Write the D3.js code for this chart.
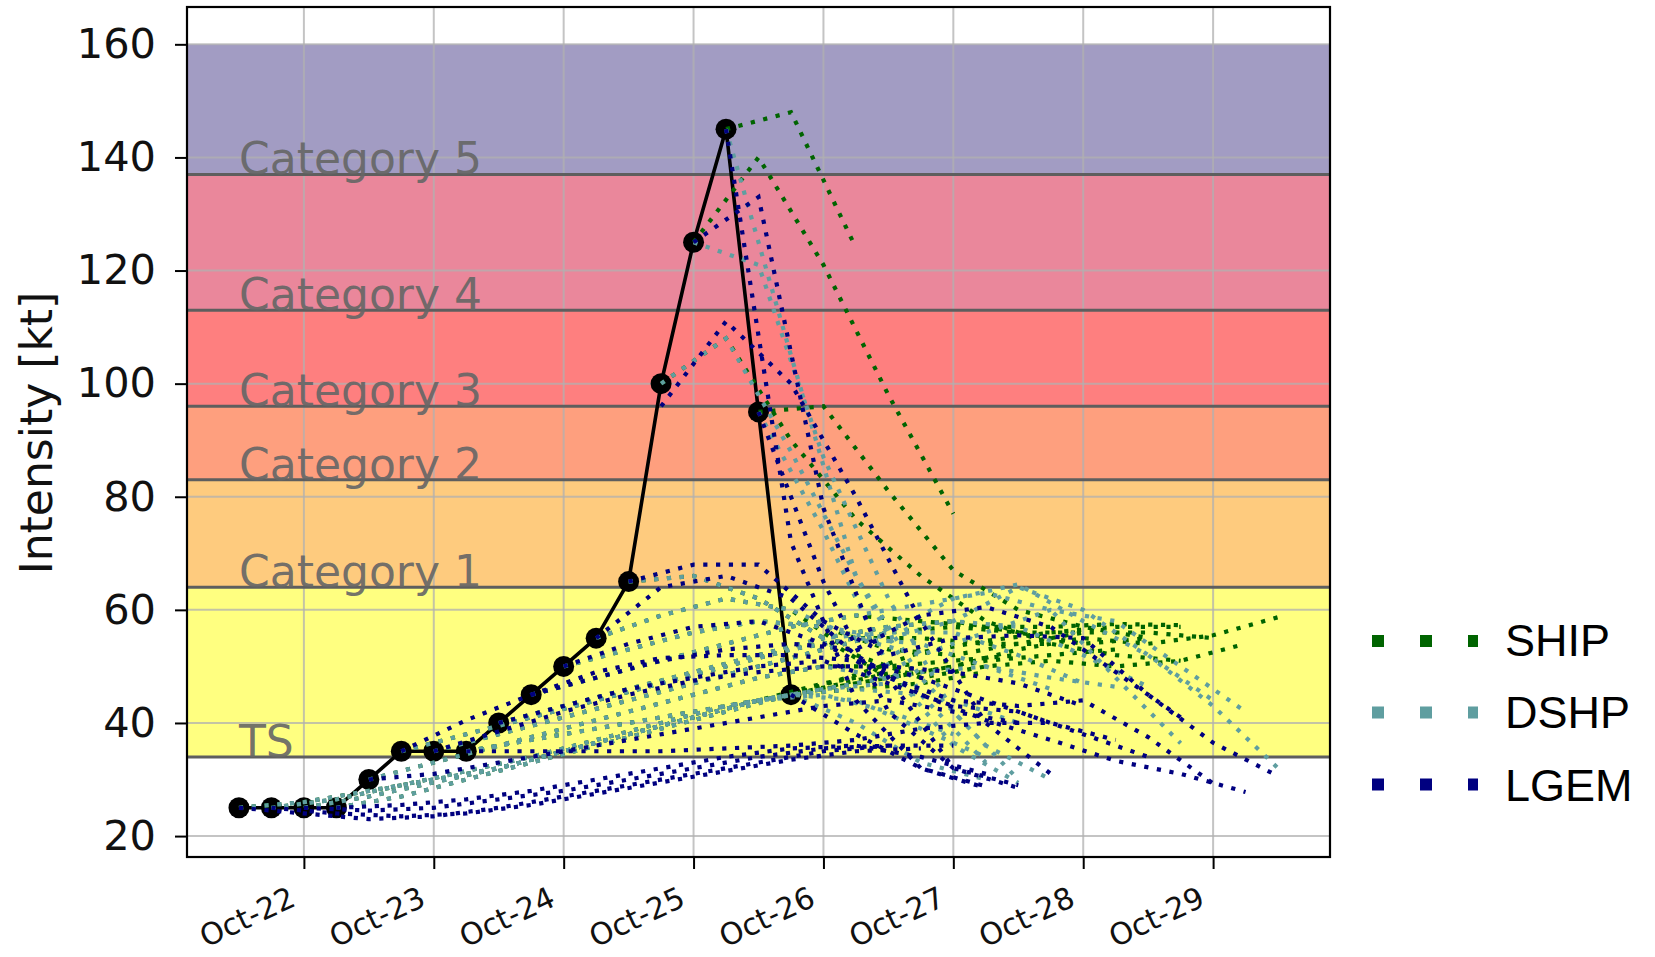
<!DOCTYPE html>
<html><head><meta charset="utf-8">
<script src="https://cdn.jsdelivr.net/npm/d3@7"></script>
<style>html,body{margin:0;padding:0;background:#fff}svg{display:block}</style>
</head><body>
<svg id="chart" width="1655" height="957"></svg>
<script>
// ---------------- data ----------------
const trackTimes = ["2023-10-21T12:00Z","2023-10-21T18:00Z","2023-10-22T00:00Z","2023-10-22T06:00Z",
  "2023-10-22T12:00Z","2023-10-22T18:00Z","2023-10-23T00:00Z","2023-10-23T06:00Z","2023-10-23T12:00Z",
  "2023-10-23T18:00Z","2023-10-24T00:00Z","2023-10-24T06:00Z","2023-10-24T12:00Z","2023-10-24T18:00Z",
  "2023-10-25T00:00Z","2023-10-25T06:00Z","2023-10-25T12:00Z","2023-10-25T18:00Z"];
const trackIntensity = [25,25,25,25,30,35,35,35,40,45,50,55,65,100,125,145,95,45];
const forecastStepHours = 12;
// one row per initial time (same order as trackTimes), values every 12 h
const shipForecasts = [
  [25,26,28,30,32,35,38,41,44,47,49],
  [25,26.5,29,31.5,34,37,40,43,45,47.5,50],
  [25,27,29.5,32,35,38,41,44,46,48,50],
  [25,27,30,33,36,39,42,45,46,47,49],
  [30,33,36,39,42,45,48,50,50,51,52],
  [35,38,41,44,47,50,53,55,55,54,54],
  [35,38,41,44,47,50,53,56,57,56,56],
  [35,37,39,41,43,45,47,49,51,52,53],
  [40,43,46,49,52,55,57,58,56,54,55],
  [45,48,51,54,57,59,58,57,57,57.5,57.3],
  [50,53,56,58,57,53,52,54,56,56,55],
  [55,59,62,60,52,48,50,51,50,51,54],
  [65,66,62,55,48,50,53,55,54,55.5,58.7],
  [100,108,90,76,66,58,54,52,51],
  [125,140,121,98,77],
  [145,148,124],
  [95,96,81,67,60,57,55],
  [45,48.5,52.5,54.5,56,57,57]
];
const dshpForecasts = [
  [25,26,28,30,32,35,38,41,44,46,47],
  [25,26.5,29,31.5,34,37,40,43,45,46,45],
  [25,27,29.5,32,35,38,41,44,45,42,38],
  [25,27,30,33,36,39,42,45,44,39,34],
  [30,33,36,39,42,45,48,50,48,44,40],
  [35,38,41,44,47,50,53,55,54,50,46],
  [35,38,41,44,47,50,53,56,56,52,47],
  [35,37,39,41,43,45,47,49,50,48,46.4],
  [40,43,46,49,52,55,57,58,57,52,46.4],
  [45,48,51,54,57,59,61,63,60,48,36.4],
  [50,53,56,58,57,55,58,64,60,52,44],
  [55,59,62,60,55,52,56,60,58,50,42],
  [65,66,62,55,56,62,64.5,58,52,43,32],
  [100,108,88,66,48,36,30],
  [125,121,87,62,42,30],
  [145,105,66,45,33],
  [95,74,50,36,29.4],
  [45,40,33,30]
];
const lgemForecasts = [
  [25,24,23,23.5,25,27,29,31,33,35,36],
  [25,24,23.5,24,25.5,27.5,29.5,31.5,33.5,35,35.5],
  [25,24.5,25,26.5,28,30,32,34,35.5,36,36],
  [25,25.5,26.5,28,30,32,34,35.5,36,34,31],
  [30,31,33,35,37,39,41,43,44,42,40],
  [35,40.5,45,49,51.5,52,52,51,48,44,40],
  [35,38.5,42,45,47.5,49,50,50,49,47,43],
  [35,35,35,35,35.5,36,37,39,40,40,37],
  [40,43,46,48,50,51,47,43,42,38,34],
  [45,48,51,53,54,53,59,60.5,57,49,41],
  [50,54,57,58,54,48,44,43,44,37.5,29.3],
  [55,64,66,62,52,45,40.5,37,33.3,31,27.8],
  [65,68,68,58,52,55,55.5,55,45,36.5,30.6],
  [96,111,100,80,58,40,31],
  [125,133,78,48,32,29],
  [145,72,44,32,28.8],
  [95,65,42,32,28.5],
  [45,38,32,28.5]
];
const modelNames = ["SHIP","DSHP","LGEM"];
const modelColors = ["#006400","#5f9ea0","#000080"];
const bandBounds = [34,64,83,96,113,137,160];
const bandNames = ["TS","Category 1","Category 2","Category 3","Category 4","Category 5"];
const bandColors = ["#ffff80","#fecb7e","#fe9f7e","#fe7f7f","#ea879b","#a29cc3"];
const yTickValues = [20,40,60,80,100,120,140,160];
const xDomain = ["2023-10-21T02:24Z","2023-10-29T21:36Z"];
const yDomain = [16.3,166.6];

// ---------------- drawing ----------------
const svg = d3.select("#chart");
const L = 187, R = 1330, T = 7, B = 857;
const parse = s => new Date(s);
const x = d3.scaleUtc().domain(xDomain.map(parse)).range([L, R]);
const y = d3.scaleLinear().domain(yDomain).range([B, T]);
const FONT = "'DejaVu Sans', sans-serif";

const plot = svg.append("g");
plot.append("defs").append("clipPath").attr("id","clip")
  .append("rect").attr("x",L).attr("y",T).attr("width",R-L).attr("height",B-T);
const inner = plot.append("g").attr("clip-path","url(#clip)");

// category bands
bandNames.forEach((n,i)=>{
  inner.append("rect").attr("x",L).attr("width",R-L)
    .attr("y",y(bandBounds[i+1])).attr("height",y(bandBounds[i])-y(bandBounds[i+1]))
    .attr("fill",bandColors[i]);
});
// grid
const xTicks = x.ticks(d3.utcDay.every(1));
inner.append("g").selectAll("line").data(xTicks).join("line")
  .attr("x1",d=>x(d)).attr("x2",d=>x(d)).attr("y1",T).attr("y2",B)
  .attr("stroke","#b0b0b0").attr("stroke-opacity",0.75).attr("stroke-width",2);
inner.append("g").selectAll("line").data(yTickValues).join("line")
  .attr("y1",d=>y(d)).attr("y2",d=>y(d)).attr("x1",L).attr("x2",R)
  .attr("stroke","#b0b0b0").attr("stroke-opacity",0.75).attr("stroke-width",2);
// band boundary lines
inner.append("g").selectAll("line").data(bandBounds.slice(0,-1)).join("line")
  .attr("y1",d=>y(d)).attr("y2",d=>y(d)).attr("x1",L).attr("x2",R)
  .attr("stroke","#5e5e5e").attr("stroke-width",3);
// band labels
const labelTime = parse(trackTimes[0]);
inner.append("g").selectAll("text").data(bandNames).join("text")
  .attr("x",x(labelTime)).attr("y",(d,i)=>y(bandBounds[i]))
  .attr("font-family",FONT).attr("font-size",44).attr("fill","#666666").attr("fill-opacity",0.92)
  .text(d=>d);

// best track
const track = trackTimes.map((t,i)=>({t:parse(t), v:trackIntensity[i]}));
const line = d3.line().x(d=>x(d.t)).y(d=>y(d.v));
inner.append("path").datum(track).attr("d",line)
  .attr("fill","none").attr("stroke","#000").attr("stroke-width",3.6);
inner.append("g").selectAll("circle").data(track).join("circle")
  .attr("cx",d=>x(d.t)).attr("cy",d=>y(d.v)).attr("r",10.5).attr("fill","#000");

// forecasts
const allForecasts = [shipForecasts, dshpForecasts, lgemForecasts];
allForecasts.forEach((set,m)=>{
  const g = inner.append("g");
  set.forEach((vals,i)=>{
    const t0 = parse(trackTimes[i]).getTime();
    const pts = vals.map((v,k)=>({t:new Date(t0 + k*forecastStepHours*3600e3), v}));
    g.append("path").datum(pts).attr("d",line)
      .attr("fill","none").attr("stroke",modelColors[m]).attr("stroke-width",4.2)
      .attr("stroke-dasharray","4.2,8.6");
  });
});

// frame
plot.append("rect").attr("x",L).attr("y",T).attr("width",R-L).attr("height",B-T)
  .attr("fill","none").attr("stroke","#000").attr("stroke-width",2.2);

// y axis
const yAxis = svg.append("g").attr("transform",`translate(${L},0)`)
  .call(d3.axisLeft(y).tickValues(yTickValues).tickSize(12).tickPadding(19));
yAxis.select(".domain").remove();
yAxis.selectAll(".tick line").attr("stroke","#000").attr("stroke-width",2);
yAxis.selectAll(".tick text").attr("font-family",FONT).attr("font-size",41.5).attr("fill","#111");

// x axis (ticks from the axis generator, labels placed as rotated texts)
const xFmt = d3.utcFormat("%b-%d");
const xAxis = svg.append("g").attr("transform",`translate(0,${B})`)
  .call(d3.axisBottom(x).ticks(d3.utcDay.every(1)).tickFormat("").tickSize(12));
xAxis.select(".domain").remove();
xAxis.selectAll(".tick line").attr("stroke","#000").attr("stroke-width",2);
const labY = B + 48;
svg.append("g").selectAll("text").data(xTicks).join("text")
  .attr("x",d=>x(d)-6.5).attr("y",labY)
  .attr("transform",d=>`rotate(-25,${x(d)-6.5},${labY})`)
  .attr("text-anchor","end")
  .attr("font-family",FONT).attr("font-size",30).attr("fill","#111")
  .text(d=>xFmt(d));

// y label
svg.append("text").attr("transform","translate(52,433) rotate(-90)")
  .attr("text-anchor","middle").attr("font-family",FONT).attr("font-size",44).attr("fill","#111")
  .text("Intensity [kt]");

// legend
const lg = svg.append("g");
const legY = [641,712.5,784.5], legTextY = [656,728,801];
modelNames.forEach((n,i)=>{
  lg.append("line").attr("x1",1372).attr("x2",1478).attr("y1",legY[i]).attr("y2",legY[i])
    .attr("stroke",modelColors[i]).attr("stroke-width",12).attr("stroke-dasharray","12,36");
  lg.append("text").attr("x",1505).attr("y",legTextY[i])
    .attr("font-family","'Liberation Sans', Arial, sans-serif").attr("font-size",45).attr("fill","#000")
    .text(n);
});
</script>
</body></html>
